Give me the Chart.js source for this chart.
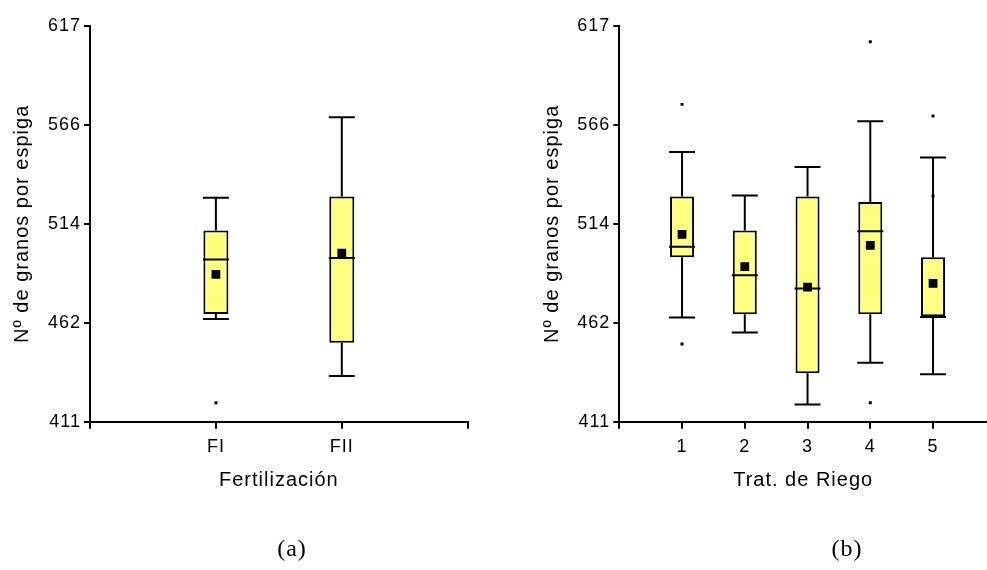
<!DOCTYPE html>
<html lang="es">
  <head>
    <meta charset="UTF-8" />
    <title>Granos por espiga</title>
    <script src="https://cdn.jsdelivr.net/npm/chart.js"></script>
    <style>
      body {
        margin: 0;
        background: #fff;
        width: 987px;
        height: 570px;
        position: relative;
        overflow: hidden;
      }
      canvas {
        position: absolute;
        top: 0;
      }
      .panel {
        position: absolute;
        top: 536px;
        width: 80px;
        text-align: center;
        font-family: "Liberation Serif", "Times New Roman", serif;
        font-size: 24px;
        line-height: 24px;
        letter-spacing: 1px;
        color: #000;
      }
    </style>
  </head>
  <body>
    <canvas id="chartA" width="493" height="570" style="left: 0"></canvas>
    <canvas id="chartB" width="494" height="570" style="left: 493px"></canvas>
    <div class="panel" style="left: 252px">(a)</div>
    <div class="panel" style="left: 807px">(b)</div>

    <script>
      // (a) Fertilización
      const fertCats = ["FI", "FII"];
      const fertMin = [464.5, 434.8];
      const fertQ1 = [467.1, 452.1];
      const fertMed = [495.4, 496.2];
      const fertQ3 = [510.6, 528.2];
      const fertMax = [527.6, 569.5];
      const fertMean = [487.7, 498.7];
      const fertOut = [[420.9], []];

      // (b) Trat. de Riego
      const riegoCats = ["1", "2", "3", "4", "5"];
      const riegoMin = [465.3, 457.5, 419.9, 441.7, 435.7];
      const riegoQ1 = [496.6, 466.9, 436.2, 466.9, 465.9];
      const riegoMed = [502.1, 487.2, 480.3, 510.1, 465.5];
      const riegoQ3 = [528.2, 510.5, 528.2, 525.4, 496.6];
      const riegoMax = [551.4, 528.7, 543.6, 567.4, 548.6];
      const riegoMean = [508.5, 491.7, 481.0, 502.8, 483.0];
      const riegoOut = [[576.2, 451.5], [], [], [608.8, 420.9], [570.1, 528.5]];

      // eje Y (igual en los dos)
      const yTickVals = [411, 462.5, 514, 565.5, 617];
      const yTickLabels = ["411", "462", "514", "566", "617"];

      Chart.defaults.font.family = "'Liberation Sans', Arial, sans-serif";
      Chart.defaults.color = "#000";

      // separa un poco las letras, como en el original
      const spacing = {
        id: "spacing",
        beforeUpdate(c) {
          c.ctx.letterSpacing = "1px";
        },
        beforeDraw(c) {
          c.ctx.letterSpacing = "1px";
        },
      };

      function boxChart(id, d, o) {
        const pts = (vals) => vals.map((v, i) => ({ x: i + 1, y: v }));
        const range = (a, b) => a.map((v, i) => ({ x: i + 1, y: [v, b[i]] }));
        const outliers = d.out.flatMap((arr, i) =>
          arr.map((v) => ({ x: i + 1, y: v }))
        );
        const xTicks = [0].concat(d.cats.map((c, i) => i + 1));
        const xLabels = [""].concat(d.cats);
        if (o.endTick) {
          xTicks.push(d.cats.length + 1);
          xLabels.push("");
        }

        const whisker = {
          type: "bar",
          grouped: false,
          maxBarThickness: 2,
          backgroundColor: "#000",
          borderWidth: 0,
          order: 5,
        };
        const hline = {
          type: "scatter",
          pointStyle: "line",
          pointRadius: 13,
          pointBorderWidth: 2,
          pointBorderColor: "#000",
        };

        return new Chart(document.getElementById(id), {
          type: "bar",
          data: {
            datasets: [
              { ...whisker, data: range(d.q3, d.max) },
              { ...whisker, data: range(d.min, d.q1) },
              { ...hline, data: pts(d.max), order: 4 },
              { ...hline, data: pts(d.min), order: 4 },
              {
                type: "bar",
                grouped: false,
                maxBarThickness: o.boxW,
                data: range(d.q1, d.q3),
                backgroundColor: "#ffff80",
                borderColor: "#000",
                borderWidth: 2,
                borderSkipped: false,
                order: 3,
              },
              { ...hline, data: pts(d.med), order: 2 },
              {
                type: "scatter",
                data: pts(d.mean),
                pointStyle: "rect",
                pointRadius: 6.2,
                backgroundColor: "#000",
                borderWidth: 0,
                order: 1,
              },
              {
                type: "scatter",
                data: outliers,
                pointStyle: "rect",
                pointRadius: 2.1,
                backgroundColor: "#000",
                borderWidth: 0,
                order: 1,
              },
            ],
          },
          options: {
            responsive: false,
            animation: false,
            events: [],
            layout: {
              autoPadding: false,
              padding: { left: 0, right: o.padRight, top: 26, bottom: 78 },
            },
            plugins: { legend: { display: false }, tooltip: { enabled: false } },
            scales: {
              x: {
                type: "linear",
                offset: false,
                min: 0,
                max: o.xMax,
                afterFit: (s) => {
                  s.height = 70.3;
                  s.paddingLeft = 0;
                  s.paddingRight = 0;
                },
                afterBuildTicks: (s) => {
                  s.ticks = xTicks.map((v) => ({ value: v }));
                },
                ticks: {
                  padding: 8,
                  font: { size: 18 },
                  callback: (v, i) => xLabels[i],
                },
                grid: {
                  offset: false,
                  drawOnChartArea: false,
                  tickLength: 7,
                  color: "#000",
                  lineWidth: 2,
                },
                border: { display: true, color: "#000", width: 2 },
                title: {
                  display: true,
                  text: o.xTitle,
                  font: { size: 20 },
                  padding: { top: 0, bottom: 0 },
                },
              },
              y: {
                min: 411,
                max: 617,
                afterFit: (s) => {
                  s.width = o.yAxisW;
                },
                afterBuildTicks: (s) => {
                  s.ticks = yTickVals.map((v) => ({ value: v }));
                },
                ticks: {
                  padding: 3,
                  font: { size: 18 },
                  callback: (v, i) => yTickLabels[i],
                },
                grid: {
                  drawOnChartArea: false,
                  tickLength: 6,
                  color: "#000",
                  lineWidth: 2,
                },
                border: { display: true, color: "#000", width: 2 },
                title: {
                  display: true,
                  text: "Nº de granos por espiga",
                  font: { size: 20 },
                  padding: { top: o.yTitlePad, bottom: 0 },
                },
              },
            },
          },
          plugins: [spacing],
        });
      }

      boxChart(
        "chartA",
        {
          cats: fertCats, min: fertMin, q1: fertQ1, med: fertMed,
          q3: fertQ3, max: fertMax, mean: fertMean, out: fertOut,
        },
        {
          xMax: 3, endTick: true, boxW: 25, yAxisW: 90, padRight: 25.3,
          yTitlePad: 10, xTitle: "Fertilización",
        }
      );

      boxChart(
        "chartB",
        {
          cats: riegoCats, min: riegoMin, q1: riegoQ1, med: riegoMed,
          q3: riegoQ3, max: riegoMax, mean: riegoMean, out: riegoOut,
        },
        {
          xMax: 5.86, endTick: false, boxW: 24, yAxisW: 126.3, padRight: 0,
          yTitlePad: 47.5, xTitle: "Trat. de Riego",
        }
      );
    </script>
  </body>
</html>
